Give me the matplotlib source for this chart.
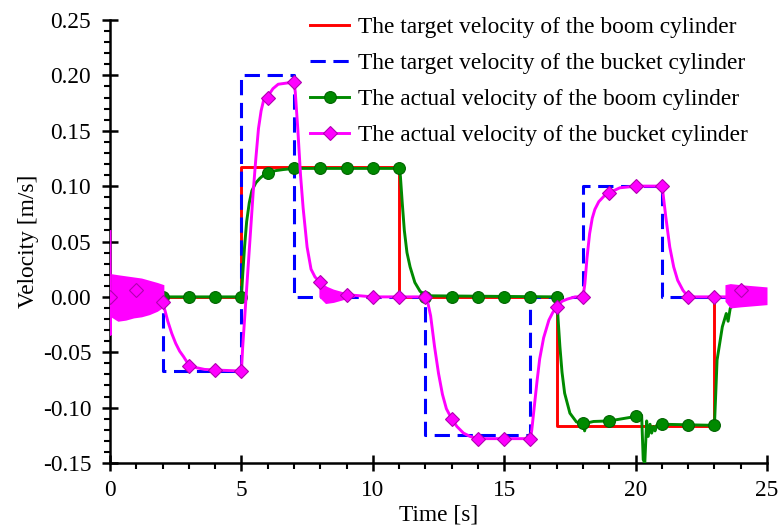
import numpy as np
import matplotlib
matplotlib.use("Agg")
import matplotlib.pyplot as plt
from matplotlib.lines import Line2D
from matplotlib.ticker import MultipleLocator, FormatStrFormatter

plt.rcParams["font.family"] = ["Liberation Serif", "DejaVu Serif"]

# target velocities (step commands)
t_boom_target = [0, 5, 5, 11, 11, 17, 17, 23, 23, 25]
v_boom_target = [0, 0, 0.117, 0.117, 0, 0, -0.117, -0.117, 0, 0]

t_bucket_target = [0, 2, 2, 5, 5, 7, 7, 12, 12, 16, 16, 18, 18, 21, 21, 25]
v_bucket_target = [0, 0, -0.067, -0.067, 0.2, 0.2, 0, 0, -0.125, -0.125, 0, 0, 0.1, 0.1, 0, 0]

# measured boom velocity
t_boom = [0, 5.0, 5.05, 5.12, 5.2, 5.3, 5.4, 5.55, 5.7, 5.85, 6.0, 6.3, 6.6, 7.0,
          11.0, 11.05, 11.12, 11.2, 11.3, 11.42, 11.6, 11.8, 12.05,
          17.0, 17.05, 17.12, 17.2, 17.3, 17.5, 17.75, 18.0, 18.06, 18.12, 18.4,
          19.0, 19.5, 20.0, 20.23, 20.29, 20.35, 20.42, 20.48, 20.55, 20.61,
          20.68, 20.74, 20.8, 21.0, 23.0, 23.05, 23.1, 23.2, 23.3, 23.45,
          23.52, 23.6, 23.75, 24.0, 24.5, 25.0]
v_boom = [0, 0, 0.02, 0.045, 0.068, 0.085, 0.096, 0.103, 0.107, 0.110, 0.112, 0.114, 0.115, 0.116,
          0.116, 0.109, 0.085, 0.06, 0.04, 0.027, 0.013, 0.005, 0.001,
          0, -0.02, -0.045, -0.068, -0.087, -0.105, -0.113, -0.114, -0.121, -0.114, -0.1125,
          -0.112, -0.110, -0.108, -0.107, -0.147, -0.150, -0.112, -0.126, -0.115, -0.123,
          -0.117, -0.121, -0.116, -0.115, -0.116, -0.087, -0.057, -0.042, -0.027, -0.015,
          -0.022, -0.0105, -0.006, -0.004, -0.003, -0.002]
t_boom_marks = list(range(0, 24))
v_boom_marks = [0, 0, 0, 0, 0, 0, 0.112, 0.116, 0.116, 0.116, 0.116, 0.116,
                0, 0, 0, 0, 0, 0, -0.114, -0.112, -0.108, -0.115, -0.116, -0.116]

# measured bucket velocity
t_bucket = [0, 0.01, 0.03, 2.0, 2.1, 2.2, 2.35, 2.5, 2.65, 2.8, 3.0, 3.3, 3.6, 4.0,
            5.0, 5.05, 5.15, 5.25, 5.35, 5.45, 5.55, 5.65, 5.75, 5.85, 6.0, 6.2,
            6.4, 6.7, 7.0, 7.05, 7.15, 7.25, 7.35, 7.5, 7.65, 7.8, 8.0, 8.3, 8.6,
            9.0, 10.0, 12.0, 12.1, 12.2, 12.35, 12.5, 12.65, 12.8, 13.0, 13.2,
            13.45, 13.7, 14.0, 15.0, 16.0, 16.05, 16.15, 16.25, 16.35, 16.5, 16.7,
            16.85, 17.0, 17.2, 17.4, 17.7, 18.0, 18.07, 18.15, 18.25, 18.35, 18.45,
            18.6, 18.8, 19.0, 19.4, 20.0, 21.0, 21.05, 21.15, 21.3, 21.45, 21.6,
            21.8, 22.0, 23.0, 23.4]
v_bucket = [0.059, -0.034, 0, -0.005, -0.013, -0.022, -0.033, -0.042, -0.049, -0.054, -0.0615, -0.064, -0.0655, -0.066,
            -0.067, -0.045, -0.01, 0.025, 0.06, 0.095, 0.125, 0.152, 0.168, 0.178, 0.181, 0.188,
            0.192, 0.193, 0.194, 0.185, 0.15, 0.11, 0.08, 0.045, 0.025, 0.018, 0.013, 0.006, 0.003,
            0.002, 0.0, 0.0, -0.006, -0.017, -0.045, -0.069, -0.088, -0.101, -0.110, -0.117,
            -0.123, -0.126, -0.128, -0.128, -0.128, -0.12, -0.098, -0.076, -0.056, -0.037, -0.021,
            -0.014, -0.009, -0.004, -0.002, 0.0, 0.0, 0.012, 0.035, 0.057, 0.071, 0.079,
            0.086, 0.091, 0.094, 0.0985, 0.100, 0.100, 0.092, 0.072, 0.045, 0.027, 0.015,
            0.006, 0.0, 0.0, 0.0]
t_bucket_marks = list(range(0, 25))
v_bucket_marks = [0, 0.006, -0.005, -0.062, -0.066, -0.067, 0.180, 0.194, 0.013, 0.002,
                  0, 0, 0, -0.110, -0.128, -0.128, -0.128, -0.009, 0, 0.094, 0.100, 0.100,
                  0, 0, 0.006]

# chattering envelopes of the bucket velocity
t_chat1 = [0.03, 0.3, 0.6, 0.9, 1.2, 1.5, 1.8, 2.05]
hi_chat1 = [0.021, 0.020, 0.019, 0.018, 0.017, 0.015, 0.013, 0.011]
lo_chat1 = [-0.018, -0.022, -0.021, -0.019, -0.018, -0.016, -0.013, -0.009]
t_chat2 = [7.95, 8.2, 8.5, 8.8, 9.1, 9.3]
hi_chat2 = [0.015, 0.010, 0.007, 0.005, 0.003, 0.002]
lo_chat2 = [0.0, -0.006, -0.005, -0.003, -0.001, 0.0]
t_chat3 = [23.4, 23.6, 24.0, 24.5, 25.0]
hi_chat3 = [0.011, 0.012, 0.011, 0.010, 0.009]
lo_chat3 = [-0.004, -0.010, -0.009, -0.008, -0.007]

labels = ["The target velocity of the boom cylinder",
          "The target velocity of the bucket cylinder",
          "The actual velocity of the boom cylinder",
          "The actual velocity of the bucket cylinder"]

red = "#ff0000"
blue = "#0000ff"
green = "#008a00"
magenta = "#ff00ff"
fs = 16.8

fig = plt.figure(figsize=(7.79, 5.28), dpi=100)
ax = fig.add_axes([0.1412, 0.1231, 0.8434, 0.839])

ax.plot(t_boom_target, v_boom_target, color=red, lw=2.1, zorder=2)
ax.plot(t_bucket_target, v_bucket_target, color=blue, lw=2.2, dashes=(5, 2.5), zorder=3)

ax.plot(t_boom, v_boom, color=green, lw=2.1, zorder=4)
ax.plot(t_boom_marks, v_boom_marks, ls="none", marker="o", ms=8.5, mfc=green,
        mec="#006400", mew=0.8, zorder=5)

for t_c, hi, lo in [(t_chat1, hi_chat1, lo_chat1), (t_chat2, hi_chat2, lo_chat2),
                    (t_chat3, hi_chat3, lo_chat3)]:
    ax.fill_between(t_c, lo, hi, color=magenta, lw=0, zorder=6)
ax.plot(t_bucket, v_bucket, color=magenta, lw=2.1, zorder=6)
ax.plot(t_bucket_marks, v_bucket_marks, ls="none", marker="D", ms=7.3, mfc=magenta,
        mec="#b000b0", mew=0.8, zorder=7)

ax.set_xlim(0, 25)
ax.set_ylim(-0.15, 0.25)
ax.xaxis.set_major_locator(MultipleLocator(5))
ax.xaxis.set_minor_locator(MultipleLocator(1))
ax.yaxis.set_major_locator(MultipleLocator(0.05))
ax.yaxis.set_minor_locator(MultipleLocator(0.01))
ax.yaxis.set_major_formatter(FormatStrFormatter("%.2f"))

for side in ["top", "right"]:
    ax.spines[side].set_visible(False)
for side in ["left", "bottom"]:
    ax.spines[side].set_linewidth(1.8)

ax.tick_params(which="major", direction="inout", length=11, width=1.8, labelsize=fs)
ax.tick_params(axis="y", which="major", pad=8)
ax.tick_params(axis="x", which="major", pad=7)
ax.tick_params(which="minor", direction="out", length=4.5, width=1.5)

ax.set_xlabel("Time [s]", fontsize=fs, labelpad=2)
ax.set_ylabel("Velocity [m/s]", fontsize=fs, labelpad=3)

handles = [Line2D([], [], color=red, lw=2.1),
           Line2D([], [], color=blue, lw=2.2, dashes=(5, 2.5)),
           Line2D([], [], color=green, lw=2.1, marker="o", ms=8.5, mfc=green, mec="#006400", mew=0.8),
           Line2D([], [], color=magenta, lw=2.1, marker="D", ms=7.3, mfc=magenta, mec="#b000b0", mew=0.8)]
ax.legend(handles, labels, loc="upper right", bbox_to_anchor=(1.003, 1.054), frameon=False,
          fontsize=fs, handlelength=1.65, handletextpad=0.4, labelspacing=0.62)

fig.savefig("out.png", dpi=100)
